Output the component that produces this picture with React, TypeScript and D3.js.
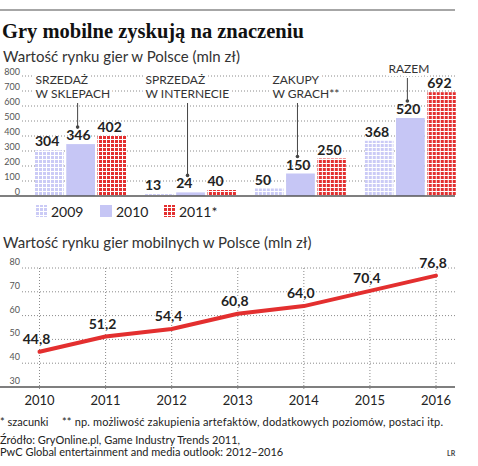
import { useEffect } from "react";
import * as d3 from "d3";

// bar chart data (mln zł)
const groupKeys = ["sklepy", "internet", "zakupy", "razem"];
const groupNotes = [["SRZEDAŻ", "W SKLEPACH"], ["SPRZEDAŻ", "W INTERNECIE"], ["ZAKUPY", "W GRACH**"], ["RAZEM"]];
const seriesYears = ["2009", "2010", "2011*"];
const values2009 = [304, 13, 50, 368];
const values2010 = [346, 24, 150, 520];
const values2011 = [402, 40, 250, 692];
const barTicks = [0, 100, 200, 300, 400, 500, 600, 700, 800];

// line chart data (mln zł)
const mobileYears = ["2010", "2011", "2012", "2013", "2014", "2015", "2016"];
const mobileValues = [44.8, 51.2, 54.4, 60.8, 64.0, 70.4, 76.8];
const lineTicks = [30, 40, 50, 60, 70, 80];

const W = 478;
const H = 466;
const FONT = "Lato, 'Open Sans', sans-serif";
const INK = "#222";
const GRID = "#8a8a8a";
const LAVENDER = "#c6c6f5";
const RED = "#e32f2f";

const fills = ["url(#p2009)", LAVENDER, "url(#p2011)"];
const noteDx = [-42, -42, -25, -19];

const App = () => {
    useEffect(() => {
        document.body.style.margin = "0";
    }, []);

    const series = [values2009, values2010, values2011];

    const x0 = d3.scaleBand<string>().domain(groupKeys).range([35, 456]).paddingInner(0.17);
    const x1 = d3.scaleBand<string>().domain(seriesYears).range([0, x0.bandwidth()]).paddingInner(0.08);
    const yBar = d3.scaleLinear().domain([0, 800]).range([196, 76]);

    const xLine = d3.scalePoint<string>().domain(mobileYears).range([39.5, 436]);
    const yLine = d3.scaleLinear().domain([30, 80]).range([387, 268]);
    const line = d3.line<number>()
        .x((_, i) => xLine(mobileYears[i])!)
        .y(d => yLine(d));

    const fmt = (v: number) => v.toFixed(1).replace(".", ",");

    return (
        <svg width={W} height={H} viewBox={`0 0 ${W} ${H}`} style={{ display: "block", fontFamily: FONT }}>
            <defs>
                <pattern id="p2009" width="4" height="4" patternUnits="userSpaceOnUse">
                    <rect width="4" height="4" fill="#fff" />
                    <rect width="3" height="3" fill="#cbcbf6" />
                </pattern>
                <pattern id="p2011" width="4" height="4" patternUnits="userSpaceOnUse">
                    <rect width="4" height="4" fill="#fff" />
                    <rect width="3" height="3" fill={RED} />
                </pattern>
            </defs>
            <rect width={W} height={H} fill="#fff" />

            {/* header */}
            <line x1={0} x2={455} y1={10} y2={10} stroke="#888" strokeWidth={1.5} />
            <text x={2} y={38} fontFamily="'Liberation Serif', 'DejaVu Serif', serif" fontWeight="bold"
                fontSize={20.5} fill="#111">Gry mobilne zyskują na znaczeniu</text>
            <text x={3} y={62} fontSize={15} fill="#333">Wartość rynku gier w Polsce (mln zł)</text>

            {/* bar chart grid */}
            {barTicks.map(t => (
                <g key={t}>
                    {t > 0 && (
                        <line x1={22} x2={455} y1={yBar(t)} y2={yBar(t)} stroke={GRID}
                            strokeWidth={1} strokeDasharray="1,2" />
                    )}
                    <text x={20} y={yBar(t) - 1} textAnchor="end" fontSize={9} fill="#555">{t}</text>
                </g>
            ))}

            {/* bars */}
            {groupKeys.map((g, gi) => (
                <g key={g} transform={`translate(${x0(g)},0)`}>
                    {series.map((s, si) => (
                        <g key={si}>
                            <rect x={x1(seriesYears[si])} y={yBar(s[gi])} width={x1.bandwidth()}
                                height={yBar(0) - yBar(s[gi])} fill={fills[si]} />
                            <text x={x1(seriesYears[si])} y={yBar(s[gi]) - 4} fontSize={14}
                                fontWeight="bold" fill={INK}>{s[gi]}</text>
                        </g>
                    ))}
                </g>
            ))}
            <line x1={0} x2={455} y1={yBar(0)} y2={yBar(0)} stroke="#555" strokeWidth={1.5} />

            {/* annotations */}
            {groupKeys.map((g, gi) => {
                const lx = x0(g)! + x1("2010")! + x1.bandwidth() / 2 - 3;
                const notes = groupNotes[gi];
                const base = notes.length === 1 ? 73 : 84;
                const top = base + (notes.length - 1) * 14 + 5;
                const bottom = yBar(values2010[gi]) - 17;
                return (
                    <g key={g}>
                        {notes.map((n, ni) => (
                            <text key={ni} x={lx + noteDx[gi]} y={base + ni * 14} fontSize={12} fill="#333"
                                stroke="#fff" strokeWidth={6} paintOrder="stroke" strokeLinejoin="round">{n}</text>
                        ))}
                        <line x1={lx} x2={lx} y1={top} y2={bottom} stroke="#444" strokeWidth={1} />
                        <circle cx={lx} cy={bottom} r={1.8} fill="#444" />
                    </g>
                );
            })}

            {/* legend */}
            {seriesYears.map((yr, i) => {
                const lx = [35, 100, 163][i];
                return (
                    <g key={yr}>
                        <rect x={lx} y={205} width={12} height={12} fill={fills[i]} />
                        <text x={lx + 16} y={217} fontSize={14} fill={INK}>{yr}</text>
                    </g>
                );
            })}

            {/* line chart */}
            <text x={3} y={248} fontSize={15} fill="#333">Wartość rynku gier mobilnych w Polsce (mln zł)</text>
            {lineTicks.map(t => (
                <g key={t}>
                    {t > 30 && (
                        <line x1={22} x2={457} y1={yLine(t)} y2={yLine(t)} stroke={GRID}
                            strokeWidth={1} strokeDasharray="1,2" />
                    )}
                    <text x={20} y={yLine(t) - 3} textAnchor="end" fontSize={9} fill="#555">{t}</text>
                </g>
            ))}
            {mobileYears.map(yr => (
                <g key={yr}>
                    <line x1={xLine(yr)} x2={xLine(yr)} y1={yLine(80)} y2={yLine(30) + 4} stroke={GRID}
                        strokeWidth={1} strokeDasharray="1,2" />
                    <text x={xLine(yr)} y={405} textAnchor="middle" fontSize={13} fill={INK}>{yr}</text>
                </g>
            ))}
            <line x1={0} x2={455} y1={yLine(30)} y2={yLine(30)} stroke="#555" strokeWidth={1.5} />
            <path d={line(mobileValues) ?? ""} fill="none" stroke={RED} strokeWidth={4}
                strokeLinejoin="round" strokeLinecap="round" />
            {mobileValues.map((v, i) => (
                <text key={i} x={xLine(mobileYears[i])! - 3} y={yLine(v) - 8} textAnchor="middle"
                    fontSize={14} fontWeight="bold" fill={INK}
                    stroke="#fff" strokeWidth={3} paintOrder="stroke">{fmt(v)}</text>
            ))}

            {/* footer */}
            <text y={426} fontSize={11} fill={INK}>
                <tspan x={0}>* szacunki</tspan>
                <tspan x={62} textLength={381} lengthAdjust="spacing">** np. możliwość zakupienia artefaktów, dodatkowych poziomów, postaci itp.</tspan>
            </text>
            <text x={0} y={444} fontSize={11} fill={INK}>Źródło: GryOnline.pl, Game Industry Trends 2011,</text>
            <text x={0} y={456} fontSize={11} fill={INK}>PwC Global entertainment and media outlook: 2012–2016</text>
            <text x={447} y={456} fontSize={7} fontWeight="bold" fill="#444">LR</text>
        </svg>
    );
};

export default App;
